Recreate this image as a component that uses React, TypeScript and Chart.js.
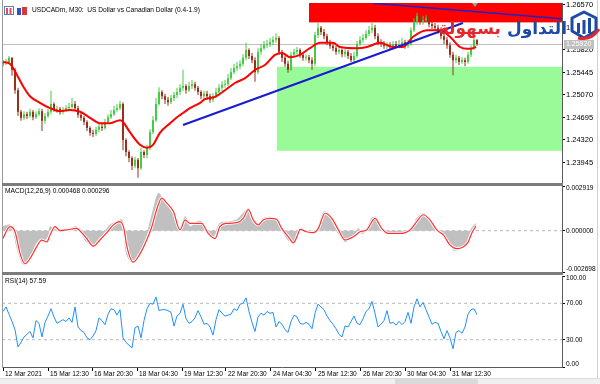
import React, { useEffect, useRef } from 'react';
import { Chart, registerables } from 'chart.js';

Chart.register(...registerables);

const FONT = 'Liberation Sans';

// ---------- price candles (one candle per time step) ----------
const firstOpen = 1.2562;
const closes = [
  1.2560, 1.2562, 1.2569, 1.2549, 1.2515, 1.2479, 1.2469, 1.2475, 1.2472, 1.2479,
  1.2470, 1.2475, 1.2480, 1.2464, 1.2472, 1.2479, 1.2492, 1.2482, 1.2484, 1.2479,
  1.2482, 1.2485, 1.2487, 1.2492, 1.2485, 1.2474, 1.2469, 1.2462, 1.2452, 1.2444,
  1.2442, 1.2449, 1.2454, 1.2452, 1.2462, 1.2470, 1.2475, 1.2482, 1.2485, 1.2492,
  1.2432, 1.2412, 1.2402, 1.2389, 1.2399, 1.2385, 1.2412, 1.2407, 1.2419, 1.2445,
  1.2465, 1.2492, 1.2512, 1.2505, 1.2499, 1.2495, 1.2502, 1.2507, 1.2512, 1.2519,
  1.2522, 1.2515, 1.2522, 1.2525, 1.2519, 1.2512, 1.2505, 1.2509, 1.2505, 1.2499,
  1.2505, 1.2512, 1.2519, 1.2524, 1.2525, 1.2535, 1.2545, 1.2552, 1.2555, 1.2559,
  1.2569, 1.2582, 1.2572, 1.2565, 1.2545, 1.2579, 1.2585, 1.2590, 1.2592, 1.2595,
  1.2599, 1.2602, 1.2579, 1.2569, 1.2559, 1.2549, 1.2574, 1.2579, 1.2582, 1.2574,
  1.2569, 1.2570, 1.2565, 1.2559, 1.2607, 1.2619, 1.2612, 1.2605, 1.2595, 1.2589,
  1.2585, 1.2579, 1.2582, 1.2575, 1.2579, 1.2572, 1.2565, 1.2572, 1.2592, 1.2599,
  1.2602, 1.2609, 1.2615, 1.2619, 1.2605, 1.2595, 1.2592, 1.2589, 1.2590, 1.2587,
  1.2592, 1.2589, 1.2592, 1.2595, 1.2589, 1.2592, 1.2615, 1.2629, 1.2639, 1.2629,
  1.2632, 1.2635, 1.2625, 1.2622, 1.2619, 1.2615, 1.2605, 1.2599, 1.2590, 1.2574,
  1.2565, 1.2569, 1.2562, 1.2565, 1.2562, 1.2574, 1.2585, 1.2599, 1.2592,
];
const highs = [
  1.2565, 1.2567, 1.2572, 1.2570, 1.2552, 1.2519, 1.2482, 1.2480, 1.2479, 1.2484,
  1.2482, 1.2480, 1.2485, 1.2484, 1.2477, 1.2484, 1.2514, 1.2495, 1.2489, 1.2487,
  1.2487, 1.2490, 1.2494, 1.2502, 1.2497, 1.2489, 1.2477, 1.2472, 1.2465, 1.2455,
  1.2449, 1.2454, 1.2459, 1.2459, 1.2467, 1.2475, 1.2482, 1.2489, 1.2492, 1.2497,
  1.2495, 1.2435, 1.2415, 1.2405, 1.2404, 1.2402, 1.2419, 1.2415, 1.2424, 1.2450,
  1.2472, 1.2502, 1.2520, 1.2515, 1.2509, 1.2504, 1.2507, 1.2512, 1.2519, 1.2525,
  1.2549, 1.2525, 1.2529, 1.2532, 1.2529, 1.2522, 1.2515, 1.2514, 1.2514, 1.2509,
  1.2510, 1.2519, 1.2525, 1.2530, 1.2532, 1.2542, 1.2552, 1.2559, 1.2562, 1.2565,
  1.2575, 1.2594, 1.2585, 1.2577, 1.2570, 1.2585, 1.2592, 1.2597, 1.2599, 1.2602,
  1.2605, 1.2610, 1.2605, 1.2582, 1.2572, 1.2564, 1.2579, 1.2584, 1.2587, 1.2585,
  1.2577, 1.2575, 1.2574, 1.2570, 1.2612, 1.2627, 1.2622, 1.2617, 1.2609, 1.2599,
  1.2594, 1.2589, 1.2589, 1.2585, 1.2584, 1.2582, 1.2577, 1.2579, 1.2597, 1.2605,
  1.2609, 1.2615, 1.2622, 1.2627, 1.2624, 1.2610, 1.2600, 1.2597, 1.2595, 1.2595,
  1.2597, 1.2597, 1.2599, 1.2602, 1.2599, 1.2599, 1.2620, 1.2635, 1.2644, 1.2642,
  1.2639, 1.2640, 1.2639, 1.2630, 1.2627, 1.2624, 1.2620, 1.2610, 1.2604, 1.2595,
  1.2579, 1.2574, 1.2572, 1.2570, 1.2569, 1.2579, 1.2590, 1.2602, 1.2600,
];
const lows = [
  1.2555, 1.2557, 1.2560, 1.2539, 1.2509, 1.2472, 1.2464, 1.2465, 1.2467, 1.2469,
  1.2465, 1.2467, 1.2472, 1.2447, 1.2459, 1.2469, 1.2475, 1.2479, 1.2477, 1.2474,
  1.2475, 1.2479, 1.2480, 1.2484, 1.2480, 1.2469, 1.2464, 1.2457, 1.2447, 1.2439,
  1.2437, 1.2439, 1.2445, 1.2447, 1.2449, 1.2459, 1.2467, 1.2472, 1.2479, 1.2482,
  1.2415, 1.2405, 1.2395, 1.2382, 1.2385, 1.2369, 1.2382, 1.2402, 1.2402, 1.2415,
  1.2442, 1.2462, 1.2489, 1.2500, 1.2492, 1.2489, 1.2492, 1.2497, 1.2502, 1.2507,
  1.2514, 1.2509, 1.2512, 1.2517, 1.2514, 1.2507, 1.2500, 1.2500, 1.2499, 1.2494,
  1.2495, 1.2502, 1.2509, 1.2514, 1.2519, 1.2522, 1.2532, 1.2542, 1.2547, 1.2550,
  1.2555, 1.2565, 1.2567, 1.2560, 1.2529, 1.2542, 1.2574, 1.2582, 1.2585, 1.2587,
  1.2590, 1.2594, 1.2574, 1.2562, 1.2554, 1.2544, 1.2547, 1.2569, 1.2574, 1.2569,
  1.2564, 1.2564, 1.2560, 1.2549, 1.2555, 1.2602, 1.2607, 1.2600, 1.2590, 1.2584,
  1.2580, 1.2574, 1.2575, 1.2570, 1.2570, 1.2567, 1.2562, 1.2562, 1.2569, 1.2589,
  1.2594, 1.2599, 1.2605, 1.2610, 1.2600, 1.2590, 1.2587, 1.2584, 1.2584, 1.2582,
  1.2582, 1.2584, 1.2585, 1.2587, 1.2584, 1.2585, 1.2589, 1.2612, 1.2624, 1.2624,
  1.2624, 1.2627, 1.2620, 1.2617, 1.2614, 1.2609, 1.2600, 1.2592, 1.2584, 1.2569,
  1.2540, 1.2560, 1.2557, 1.2559, 1.2555, 1.2559, 1.2570, 1.2582, 1.2589,
];

// ---------- moving average ----------
const maTimes = [0, 2.3, 4.7, 7, 9, 12.3, 15.7, 19, 22.3, 25.7, 29, 32.3, 35.7, 39, 40, 42.3, 45.7, 48, 50, 52.3,
  55.7, 58, 60, 62.3, 65.7, 67.3, 70.7, 74, 77.3, 80.7, 84, 87.3, 90.7, 93, 95.7, 99, 102.3, 105.7, 110, 112.3,
  118, 121.3, 125.7, 130, 133.3, 136.7, 141.3, 145.7, 149, 152.3, 154.7, 156.7, 157.7];
const maValues = [1.2562, 1.2559, 1.2540, 1.2519, 1.2505, 1.2494, 1.2485, 1.2480, 1.2482, 1.2479, 1.2469, 1.2460,
  1.2460, 1.2465, 1.2462, 1.2445, 1.2424, 1.2419, 1.2424, 1.2444, 1.2460, 1.2470, 1.2477, 1.2485, 1.2494, 1.2500,
  1.2504, 1.2515, 1.2527, 1.2535, 1.2549, 1.2557, 1.2574, 1.2577, 1.2570, 1.2574, 1.2585, 1.2594, 1.2594, 1.2587,
  1.2585, 1.2587, 1.2594, 1.2587, 1.2587, 1.2604, 1.2615, 1.2615, 1.2604, 1.2587, 1.2584, 1.2585, 1.2587];

// ---------- drawn objects ----------
const trendTimesA = [60, 153.3];
const trendPricesA = [1.2457, 1.2627];
const trendTimesB = [123.3, 186.3];
const trendPricesB = [1.2660, 1.2634];
const redZoneStart = 102;
const redZonePrices = [1.2680, 1.2628];
const greenZoneStart = 91.3;
const greenZonePrices = [1.2554, 1.2414];
const bidPrice = 1.2592;
const shiftMarkerTime = 157.3;
const priceTicks = [1.23945, 1.2432, 1.24695, 1.2507, 1.25445, 1.2582, 1.26195, 1.2657];

// ---------- MACD ----------
const macdTimes = [0, 2.3, 3.4, 4.6, 6.2, 7.3, 9, 10.7, 12.3, 14, 15.1, 15.7, 16.8, 18.4, 20.1, 22.3, 24.3, 25.7,
  27.9, 30.1, 31.8, 33.4, 35.7, 37.9, 39.6, 40.3, 41.2, 42.9, 44.6, 46.8, 48.4, 50.1, 51.8, 53.4, 55.7, 57.3, 59,
  60.7, 62.3, 64.6, 66.2, 67.9, 70.1, 72.3, 75.7, 77.9, 80.1, 81.8, 83.4, 85.1, 86.8, 89, 91.2, 92.9, 95.1, 96.8,
  98.4, 99, 100.7, 103.4, 105.1, 106.8, 108.4, 110.1, 111.8, 114, 115.7, 117.3, 118.4, 119.6, 121.2, 122.9, 124.3,
  126.2, 127.9, 131.2, 134.6, 136.2, 137.9, 140.3, 142.3, 144.6, 146.8, 149, 150.1, 152.3, 154, 155.1, 156.2, 157.6];
const macdValues = [0.00026, 0.00038, 0.00005, -0.00106, -0.00205, -0.00224, -0.00185, -0.00092, -0.00059, -0.00059,
  -0.00026, 0.00026, 0.00013, 0.00005, 0.00005, 0.00009, 0.00026, -0.00007, -0.00073, -0.00092, -0.00053, -0.0002,
  0.00038, 0.00059, 0.00071, -0.00018, -0.00152, -0.00205, -0.00172, -0.00084, 0.00005, 0.00137, 0.00244, 0.00203,
  0.00137, 0.00081, 0.00005, 0.00092, 0.00026, 0.00059, 0.00059, -0.00018, -0.0004, 0.00048, 0.00059, 0.00071,
  0.00114, 0.00147, 0.00048, 0.00038, 0.00081, 0.00088, 0.00071, 0.00005, -0.00061, -0.00073, 0.00005, 0.00009,
  -0.00007, -0.00018, 0.00026, 0.00121, 0.00114, 0.00038, -0.00018, -0.00073, -0.00051, -0.00028, 0.00015, -0.00018,
  0.00005, 0.00081, 0.00088, 0.00005, -0.00007, -0.00022, -0.00007, 0.00005, 0.00081, 0.00114, 0.00059, 0.00005,
  -0.00018, -0.00073, -0.00127, -0.00117, -0.00094, -0.0004, 0.00015, 0.000468];
const signalTimes = [0, 2.3, 4, 5.7, 7.3, 9, 11.2, 12.9, 14.6, 15.7, 17.3, 19, 21.2, 24.6, 26.2, 27.9, 30.1, 32.3,
  34.6, 36.8, 39, 40.3, 41.2, 43.4, 45.7, 47.9, 49.6, 51.2, 52.9, 54.6, 56.8, 59, 60.7, 62.3, 64.6, 66.2, 68.4, 70.7,
  72.3, 74.6, 77.9, 80.1, 81.8, 83.4, 85.1, 86.8, 89, 91.2, 92.9, 95.1, 96.8, 98.4, 99, 101.2, 103.4, 105.1, 107.3,
  109.6, 111.8, 114, 116.8, 119, 121.2, 124, 126.2, 128.4, 132.3, 135.7, 137.9, 140.1, 142.3, 144.6, 146.8, 149,
  151.2, 153.4, 155.1, 156.2, 157.6];
const signalValues = [-0.0005, 0.00026, -0.00007, -0.0015, -0.00216, -0.00183, -0.00106, -0.00061, -0.00073, -0.00028,
  0.00026, 0, 0.00005, 0.00015, -0.00013, -0.00051, -0.00101, -0.00061, -0.00013, 0.00038, 0.00059, 0.00015,
  -0.00094, -0.00205, -0.0015, -0.00061, 0.00026, 0.00137, 0.00213, 0.0018, 0.00125, 0.00005, 0.00071, 0.00048,
  0.00048, 0.00048, -0.00018, -0.00051, 0.00026, 0.00048, 0.00053, 0.00081, 0.00137, 0.00071, 0.00038, 0.00071,
  0.00081, 0.00075, 0.00015, -0.0004, -0.00079, -0.00018, 0.00009, -0.00007, -0.00013, 0.00015, 0.00114, 0.00081,
  0.00005, -0.00061, -0.0004, -0.00007, 0.00005, 0.00081, 0.00015, -0.00018, -0.00018, 0.00005, 0.00059, 0.00104,
  0.00071, 0.00005, -0.00028, -0.00094, -0.00117, -0.00106, -0.00073, -0.00018, 0.000296];
const macdTicks = [-0.002698, 0, 0.002919];

// ---------- RSI (one value per candle) ----------
const rsiValues = [
  61, 66, 58, 50, 41, 22, 27, 33, 36, 39,
  32, 51, 48, 33, 49, 56, 64, 55, 48, 50,
  52, 50, 54, 49, 66, 44, 40, 38, 32, 30,
  34, 40, 54, 51, 46.5, 58, 64, 63, 57, 63,
  32, 27, 24, 21, 43, 45, 32, 51, 64, 70,
  69, 77, 62, 63, 63, 62, 60, 45, 56, 59,
  69, 53, 48, 50, 54, 62, 55, 47, 48, 44,
  35, 52, 63, 59, 56, 57, 58, 64, 62, 69,
  70, 76, 61, 49, 39, 55, 59, 57, 61, 59,
  60, 44, 50, 47, 41, 38, 50, 57, 55, 48,
  47, 49, 47, 42, 59, 69, 66, 63, 56, 51,
  47, 42, 36, 33, 45, 44, 50, 56, 48, 46.5,
  53, 61, 64, 72, 59, 44, 47, 51, 62, 48,
  49, 46, 50, 46.5, 50, 60, 48, 66, 75, 66,
  71, 63, 55, 47, 49, 48, 39, 31, 40, 32,
  20, 38, 40, 37, 44, 58, 63, 64, 57.59,
];
const rsiLevels = [30, 70];
const rsiTicks = [0, 30, 70, 100];

// ---------- time axis ----------
const dateTickTimes = [0, 15, 29.7, 44.7, 59.7, 74.3, 89.3, 104.3, 119.3, 134, 149];
const dateTickLabels = ['12 Mar 2021', '15 Mar 12:30', '16 Mar 20:30', '18 Mar 04:30', '19 Mar 12:30',
  '22 Mar 20:30', '24 Mar 04:30', '25 Mar 12:30', '26 Mar 20:30', '30 Mar 04:30', '31 Mar 12:30'];

// ---------- layout ----------
const X_MIN = -1 / 3;
const X_MAX = 186.33;
const PRICE_MIN = 1.236033;
const PRICE_MAX = 1.266033;
const UP = '#44cc44';
const DOWN = '#9a2f1a';

const opens = closes.map((c, i) => (i === 0 ? firstOpen : closes[i - 1]));
const candleColors = closes.map((c, i) => (c >= opens[i] ? UP : DOWN));

function xAxis(display: boolean): any {
  return {
    type: 'linear', min: X_MIN, max: X_MAX, offset: false, display,
    afterBuildTicks: (s: any) => { s.ticks = dateTickTimes.map((v) => ({ value: v })); },
    afterFit: (s: any) => { s.height = display ? 17 : 0; s.paddingLeft = 0; s.paddingRight = 0; },
    ticks: {
      autoSkip: false, maxRotation: 0, minRotation: 0, align: 'start', padding: 0, labelOffset: 2,
      color: '#000', font: { family: FONT, size: 6.6, lineHeight: 1 },
      callback: (_v: any, i: number) => dateTickLabels[i],
    },
    grid: { drawOnChartArea: false, drawTicks: true, tickLength: 4, color: '#000' },
    border: { display: true, color: '#5a5a5a' },
  };
}

function yAxis(min: number, max: number, ticks: number[], digits: number, size: number, shiftEnds: boolean): any {
  return {
    type: 'linear', position: 'right', min, max,
    afterBuildTicks: (s: any) => { s.ticks = ticks.map((v) => ({ value: v })); },
    afterFit: (s: any) => { s.width = 38; s.paddingTop = 0; s.paddingBottom = 0; },
    ticks: {
      autoSkip: false, padding: 1, color: '#000',
      font: { family: FONT, size, lineHeight: '5px' },
      callback: (v: any, i: number) => {
        const t = Number(v).toFixed(digits);
        if (!shiftEnds) return t;
        if (i === 0) return [t, ''];
        if (i === ticks.length - 1) return ['', t];
        return t;
      },
    },
    grid: { drawOnChartArea: false, drawTicks: true, tickLength: 3, color: '#000' },
    border: { display: true, color: '#5a5a5a' },
  };
}

const baseOptions = (padding: any): any => ({
  responsive: false,
  animation: false,
  devicePixelRatio: 1,
  events: [],
  layout: { padding },
  plugins: { legend: { display: false }, tooltip: { enabled: false } },
});

const mainPlugin = {
  id: 'mainObjects',
  beforeDatasetsDraw(chart: any) {
    const { ctx, chartArea: a, scales: { x, y } } = chart;
    ctx.save();
    ctx.beginPath();
    ctx.rect(a.left, a.top, a.right - a.left, a.bottom - a.top);
    ctx.clip();
    const gx = x.getPixelForValue(greenZoneStart);
    const g1 = y.getPixelForValue(greenZonePrices[0]);
    const g2 = y.getPixelForValue(greenZonePrices[1]);
    ctx.fillStyle = '#98fb98';
    ctx.fillRect(gx, g1, a.right - gx, g2 - g1);
    const rx = x.getPixelForValue(redZoneStart);
    const r1 = y.getPixelForValue(redZonePrices[0]);
    const r2 = y.getPixelForValue(redZonePrices[1]);
    ctx.fillStyle = '#ff0000';
    ctx.fillRect(rx, r1, a.right - rx, r2 - r1);
    const by = Math.round(y.getPixelForValue(bidPrice)) + 0.5;
    ctx.strokeStyle = '#c0c0c0';
    ctx.lineWidth = 1;
    ctx.beginPath();
    ctx.moveTo(a.left, by);
    ctx.lineTo(a.right, by);
    ctx.stroke();
    ctx.restore();
  },
  afterDraw(chart: any) {
    const { ctx, chartArea: a, scales: { x, y } } = chart;
    const by = Math.round(y.getPixelForValue(bidPrice));
    ctx.save();
    ctx.fillStyle = '#c0c0c0';
    ctx.fillRect(a.right + 2, by - 4, 30, 9);
    ctx.fillStyle = '#ffffff';
    ctx.font = `7px "${FONT}"`;
    ctx.textBaseline = 'middle';
    ctx.fillText(bidPrice.toFixed(5), a.right + 4, by + 0.5);
    const sx = x.getPixelForValue(shiftMarkerTime);
    ctx.fillStyle = '#a0a0a0';
    ctx.beginPath();
    ctx.moveTo(sx - 3, a.top);
    ctx.lineTo(sx + 3, a.top);
    ctx.lineTo(sx, a.top + 4);
    ctx.closePath();
    ctx.fill();
    ctx.restore();
  },
};

function mainConfig(): any {
  return {
    type: 'line',
    data: {
      datasets: [
        {
          type: 'bar', order: 4, grouped: false, barThickness: 1, inflateAmount: 0,
          data: closes.map((_c, i) => ({ x: i, y: [lows[i], highs[i]] })),
          backgroundColor: candleColors,
        },
        {
          type: 'bar', order: 3, grouped: false, barThickness: 2, inflateAmount: 0, minBarLength: 1,
          data: closes.map((c, i) => ({ x: i, y: [opens[i], c] })),
          backgroundColor: candleColors,
        },
        {
          type: 'line', order: 2, data: maTimes.map((t, k) => ({ x: t, y: maValues[k] })),
          borderColor: '#ff0000', borderWidth: 2, pointRadius: 0, cubicInterpolationMode: 'monotone', fill: false,
        },
        {
          type: 'line', order: 1, data: trendTimesA.map((t, k) => ({ x: t, y: trendPricesA[k] })),
          borderColor: '#1a1ad2', borderWidth: 2, pointRadius: 0, fill: false,
        },
        {
          type: 'line', order: 1, data: trendTimesB.map((t, k) => ({ x: t, y: trendPricesB[k] })),
          borderColor: '#2222c0', borderWidth: 1.5, pointRadius: 0, fill: false,
        },
      ],
    },
    options: {
      ...baseOptions({ left: 2, right: 0, top: 3, bottom: 201 }),
      scales: {
        x: xAxis(false),
        y: yAxis(PRICE_MIN, PRICE_MAX, priceTicks, 5, 7.5, false),
      },
    },
    plugins: [mainPlugin],
  };
}

function macdConfig(): any {
  return {
    type: 'line',
    data: {
      datasets: [
        {
          order: 4, data: [{ x: X_MIN, y: 0 }, { x: X_MAX, y: 0 }],
          borderColor: '#b8b8b8', borderWidth: 1, borderDash: [3, 3], pointRadius: 0, fill: false,
        },
        {
          order: 3, data: macdTimes.map((t, k) => ({ x: t, y: macdValues[k] })),
          borderColor: '#c0c0c0', backgroundColor: '#c0c0c0', borderWidth: 1, pointRadius: 0,
          fill: 'origin', tension: 0.25,
        },
        {
          order: 2, data: signalTimes.map((t, k) => ({ x: t, y: signalValues[k] })),
          borderColor: '#ffffff', borderWidth: 3, pointRadius: 0, fill: false, cubicInterpolationMode: 'monotone',
        },
        {
          order: 1, data: signalTimes.map((t, k) => ({ x: t, y: signalValues[k] })),
          borderColor: '#ff3030', borderWidth: 1.2, pointRadius: 0, fill: false, cubicInterpolationMode: 'monotone',
        },
      ],
    },
    options: {
      ...baseOptions({ left: 2, right: 0, top: 186, bottom: 112 }),
      scales: {
        x: xAxis(false),
        y: yAxis(macdTicks[0], macdTicks[2], macdTicks, 6, 6.6, true),
      },
    },
  };
}

function rsiConfig(): any {
  return {
    type: 'line',
    data: {
      datasets: [
        ...rsiLevels.map((lv) => ({
          order: 3, data: [{ x: X_MIN, y: lv }, { x: X_MAX, y: lv }],
          borderColor: '#b8b8b8', borderWidth: 1, borderDash: [3, 3], pointRadius: 0, fill: false,
        })),
        {
          order: 1, data: rsiValues.map((v, i) => ({ x: i, y: v })),
          borderColor: '#1e90ff', borderWidth: 1, pointRadius: 0, fill: false, tension: 0,
        },
      ],
    },
    options: {
      ...baseOptions({ left: 2, right: 0, top: 276, bottom: 0 }),
      scales: {
        x: xAxis(true),
        y: yAxis(0, 100, rsiTicks, 2, 6.6, true),
      },
    },
  };
}

const canvasStyle: React.CSSProperties = { position: 'absolute', left: 0, top: 0, display: 'block' };
const textStyle: React.CSSProperties = {
  position: 'absolute', fontFamily: FONT, fontSize: '6.6px', lineHeight: '8px', color: '#000', whiteSpace: 'pre',
};

export default function App() {
  const mainRef = useRef<HTMLCanvasElement>(null);
  const macdRef = useRef<HTMLCanvasElement>(null);
  const rsiRef = useRef<HTMLCanvasElement>(null);

  useEffect(() => {
    const charts = [
      new Chart(mainRef.current as HTMLCanvasElement, mainConfig()),
      new Chart(macdRef.current as HTMLCanvasElement, macdConfig()),
      new Chart(rsiRef.current as HTMLCanvasElement, rsiConfig()),
    ];
    return () => charts.forEach((c) => c.destroy());
  }, []);

  return (
    <div style={{ position: 'fixed', left: 0, top: 0, width: 600, height: 384, background: '#fff', overflow: 'hidden' }}>
      <canvas ref={mainRef} width={600} height={384} style={canvasStyle} />
      <canvas ref={macdRef} width={600} height={384} style={canvasStyle} />
      <canvas ref={rsiRef} width={600} height={384} style={canvasStyle} />

      {/* frame and panel separators */}
      <div style={{ position: 'absolute', left: 2, top: 0, width: 1, height: 368, background: '#9a9a9a' }} />
      <div style={{ position: 'absolute', left: 2, top: 183, width: 561, height: 3, background: '#7c7c7c' }} />
      <div style={{ position: 'absolute', left: 2, top: 272, width: 561, height: 3, background: '#7c7c7c' }} />
      <div style={{ position: 'absolute', left: 597, top: 0, width: 1, height: 378, background: '#d0d0d0' }} />
      <div style={{ position: 'absolute', left: 0, top: 378, width: 600, height: 6, background: '#f0f0f0', borderTop: '1px solid #dcdcdc' }} />
      <div style={{ position: 'absolute', left: 395, top: 379, width: 83, height: 5, background: '#dadada' }} />

      {/* title */}
      <svg style={{ position: 'absolute', left: 4, top: 6 }} width={26} height={9}>
        <rect x={0.5} y={0.5} width={9} height={8} fill="#fff" stroke="#5b7fc0" />
        <rect x={2} y={2} width={2} height={6} fill="#e05050" />
        <rect x={5.5} y={2} width={2} height={6} fill="#e05050" />
        <rect x={13} y={2} width={4} height={7} fill="#2b55c8" />
        <rect x={18} y={1} width={5} height={8} fill="#d83a3a" />
      </svg>
      <div style={{ ...textStyle, left: 32, top: 6 }}>USDCADm, M30:  US Dollar vs Canadian Dollar (0.4-1.9)</div>
      <div style={{ ...textStyle, left: 5, top: 187 }}>MACD(12,26,9) 0.000468 0.000296</div>
      <div style={{ ...textStyle, left: 5, top: 277 }}>RSI(14) 57.59</div>

      {/* watermark */}
      <div
        dir="rtl"
        style={{
          position: 'absolute', right: 33, top: 17, fontFamily: 'DejaVu Sans', fontWeight: 'bold',
          fontSize: '17px', lineHeight: '22px', whiteSpace: 'nowrap',
        }}
      >
        <span style={{ color: '#1d4aa8' }}>التداول</span> <span style={{ color: '#e5262b' }}>بسهولة</span>
      </div>
      <svg style={{ position: 'absolute', left: 569, top: 9 }} width={31} height={33}>
        <path d="M15 3 L27 9 L27 22 L15 29 L3 22 L3 9 Z" fill="#fff" stroke="#1d4aa8" strokeWidth={3} strokeLinejoin="round" />
        <rect x={8} y={14} width={3} height={10} fill="#1d4aa8" />
        <rect x={13.5} y={11} width={3} height={14} fill="#1d4aa8" />
        <rect x={19} y={9} width={3} height={15} fill="#1d4aa8" />
        <path d="M9 29 Q22 32 30 20" stroke="#e5262b" strokeWidth={3} fill="none" />
      </svg>
    </div>
  );
}
